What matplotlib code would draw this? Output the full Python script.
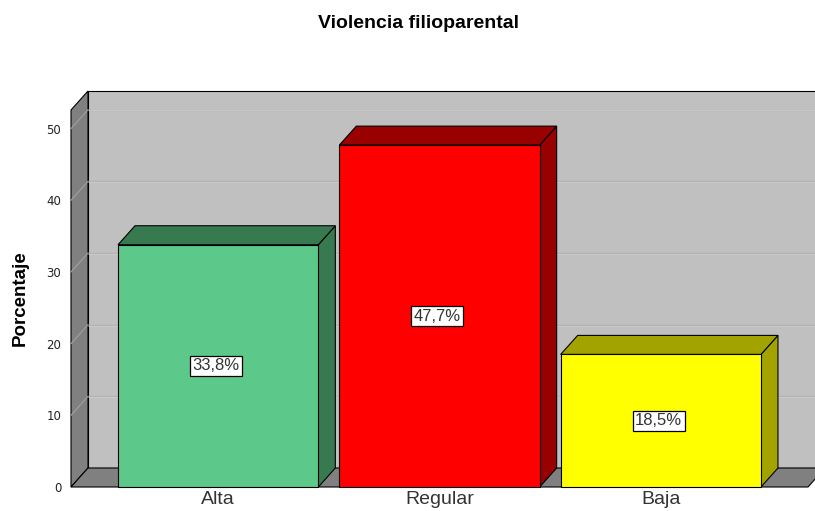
import matplotlib
matplotlib.use("Agg")
from matplotlib import pyplot as plt
from matplotlib.patches import Polygon

plt.rcParams["font.family"] = ["Liberation Sans", "DejaVu Sans"]

categories = ["Alta", "Regular", "Baja"]
percentages = [33.8, 47.7, 18.5]
value_labels = ["33,8%", "47,7%", "18,5%"]
yticks = [0, 10, 20, 30, 40, 50]

front_colors = ["#5cc98a", "#ff0000", "#ffff00"]
dark_colors = ["#377a50", "#990000", "#a3a300"]

fig = plt.figure(figsize=(8.15, 5.11), dpi=100)
ax = fig.add_axes([71 / 815, 24 / 511, (808 - 71) / 815, (487 - 110) / 511])
xmin, xmax = -0.665, 2.665
ymin, ymax = 0, 52.6
ax.set_xlim(xmin, xmax)
ax.set_ylim(ymin, ymax)
for s in ax.spines.values():
    s.set_visible(False)
ax.patch.set_visible(False)

# depth offset in data units (17 px right, 19 px up)
p0 = ax.transData.transform((0, 0))
p1 = ax.transData.transform((1, 10))
ddx = 17 / (p1[0] - p0[0])
ddy = 19 / ((p1[1] - p0[1]) / 10)


def poly(pts, fc, ec="black", lw=0.8, z=1):
    ax.add_patch(Polygon(pts, closed=True, facecolor=fc, edgecolor=ec,
                         linewidth=lw, zorder=z, clip_on=False))


# back wall
poly([(xmin + ddx, ddy), (xmax + ddx + 0.2, ddy), (xmax + ddx + 0.2, ymax + ddy),
      (xmin + ddx, ymax + ddy)], "#c0c0c0", z=1)
for t in yticks[1:]:
    ax.plot([xmin + ddx, xmax + ddx + 0.2], [t + ddy, t + ddy], color="#b2b2b2",
            lw=1.0, zorder=2, clip_on=False)
    ax.plot([xmin + ddx, xmax + ddx + 0.2], [t + ddy - 0.12, t + ddy - 0.12],
            color="#cdcdcd", lw=0.6, zorder=2, clip_on=False)

# left wall
poly([(xmin, 0), (xmin + ddx, ddy), (xmin + ddx, ymax + ddy), (xmin, ymax)],
     "#808080", z=3)
for t in yticks[1:]:
    ax.plot([xmin, xmin + ddx], [t, t + ddy], color="#a0a0a0", lw=0.8,
            zorder=4, clip_on=False)

# floor
poly([(xmin, 0), (xmax, 0), (xmax + ddx, ddy), (xmin + ddx, ddy)], "#808080", z=3)

# bars
w = 0.905
for i, (v, fc, dc, lab) in enumerate(zip(percentages, front_colors, dark_colors,
                                         value_labels)):
    l, r = i - w / 2, i + w / 2
    poly([(r, 0), (r + ddx, ddy), (r + ddx, v + ddy), (r, v)], dc, z=5)
    poly([(l, v), (r, v), (r + ddx, v + ddy), (l + ddx, v + ddy)], dc, z=5)
    poly([(l, 0), (r, 0), (r, v), (l, v)], fc, z=6)
    ax.text(i - 0.01, v / 2, lab, ha="center", va="center", fontsize=12,
            color="#333333", zorder=7,
            bbox=dict(boxstyle="square,pad=0.15", fc="white", ec="black", lw=0.9))

ax.set_yticks(yticks)
ax.set_yticklabels([str(t) for t in yticks], fontsize=8.5, family="DejaVu Sans",
                   color="#222222")
ax.set_xticks(range(len(categories)))
ax.set_xticklabels(categories, fontsize=14, color="#333333")
ax.tick_params(axis="y", length=0, pad=7)
ax.tick_params(axis="x", length=0, pad=3)

fig.text(20 / 815, 1 - 298 / 511, "Porcentaje", rotation=90, ha="center",
         va="center", fontsize=13.5, fontweight="bold")
fig.text(418 / 815, 1 - 24 / 511, "Violencia filioparental", ha="center",
         va="center", fontsize=14, fontweight="bold")

fig.savefig("out.png", dpi=100)
